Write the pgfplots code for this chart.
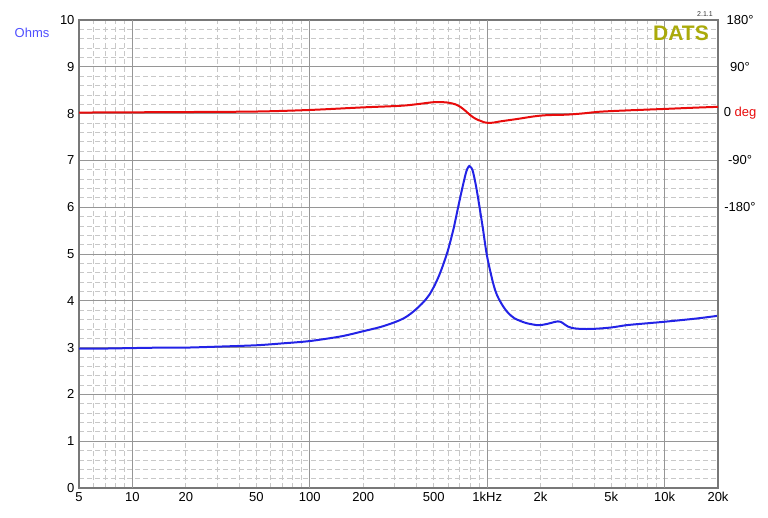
\documentclass[border=0pt]{standalone}
\usepackage{pgfplots}
\pgfplotsset{compat=1.18}
\usepackage{fontspec}
\setmainfont{Liberation Sans}

\definecolor{zblue}{RGB}{35,35,230}
\definecolor{phred}{RGB}{232,12,12}
\definecolor{ohmlbl}{RGB}{80,80,255}
\definecolor{datsol}{RGB}{170,170,10}
\definecolor{majgrid}{RGB}{150,150,150}
\definecolor{mingrid}{RGB}{200,200,200}
\definecolor{framec}{RGB}{120,120,120}

% impedance magnitude (Hz, Ohm)
\pgfplotstableread{
f Z
5 2.98
7 2.98
10 2.99
15 3.00
20 3.00
30 3.02
50 3.05
70 3.09
100 3.14
150 3.24
200 3.35
250 3.44
300 3.54
340 3.63
369 3.72
400 3.83
439 3.98
470 4.12
499 4.29
530 4.50
556 4.70
580 4.90
605 5.12
647 5.55
690 6.05
730 6.47
762 6.76
780 6.85
792 6.88
805 6.86
827 6.79
863 6.47
901 6.05
945 5.55
995 4.98
1063 4.48
1110 4.22
1159 4.05
1240 3.86
1320 3.73
1420 3.63
1535 3.57
1675 3.52
1905 3.48
2000 3.48
2200 3.51
2414 3.55
2500 3.56
2600 3.55
2720 3.50
2850 3.45
3000 3.42
3345 3.40
3975 3.40
5000 3.43
6124 3.48
8000 3.52
9840 3.55
15000 3.62
20000 3.68
}\impdata

% phase (Hz, degrees)
\pgfplotstableread{
f P
5 2
10 2.5
20 3
50 4
100 7
200 12
324 15
400 18
499 22
560 22
605 21
660 18
705 13
750 6
803 -3
860 -10
917 -14
970 -17
1018 -18
1100 -17
1183 -15
1500 -10
1820 -5.5
2160 -3
2810 -2
3500 0.5
4300 3.6
6000 6
10000 9
15000 11.5
20000 13
}\phasedata

\begin{document}
\begin{tikzpicture}[font=\fontsize{13}{15}\selectfont]
\useasboundingbox (0,0) rectangle (768pt,517pt);
\begin{axis}[
  at={(79pt,29pt)}, anchor=south west,
  width=639pt, height=468pt, scale only axis,
  xmode=log, xmin=5, xmax=20000, ymin=0, ymax=10,
  /pgf/number format/assume math mode=true,
  axis line style={framec, line width=1.2pt},
  major tick length=0pt, minor tick length=0pt,
  xtick={5,10,20,50,100,200,500,1000,2000,5000,10000,20000},
  xticklabels={5,10,20,50,100,200,500,1kHz,2k,5k,10k,20k},
  minor xtick={6,7,8,9,20,30,40,50,60,70,80,90,200,300,400,500,600,700,800,900,2000,3000,4000,5000,6000,7000,8000,9000},
  xminorgrids=true,
  extra x ticks={10,100,1000,10000},
  extra x tick labels={},
  extra x tick style={xmajorgrids=true},
  ytick={0,1,...,10},
  yticklabels={0,1,2,3,4,5,6,7,8,9,10},
  minor y tick num=4,
  ymajorgrids=true, yminorgrids=true,
  major grid style={majgrid, line width=0.8pt},
  minor grid style={mingrid, dash pattern=on 5pt off 3pt, line width=0.7pt},
  xticklabel style={yshift=-1pt},
  yticklabel style={xshift=-1pt},
]
\addplot[zblue, line width=2pt, smooth, tension=0.5] table[x=f, y=Z] {\impdata};
\end{axis}
\begin{axis}[
  at={(79pt,29pt)}, anchor=south west,
  width=639pt, height=468pt, scale only axis,
  xmode=log, xmin=5, xmax=20000, ymin=-720, ymax=180,
  axis x line=none, axis y line*=right,
  axis line style={framec, line width=1.2pt},
  major tick length=0pt, minor tick length=0pt,
  ytick={-180,-90,0,90,180},
  yticklabels={-180°,-90°,{0 \textcolor{phred}{deg}},90°,180°},
  yticklabel style={anchor=center, xshift=22pt},
]
\addplot[phred, line width=2pt, smooth, tension=0.5] table[x=f, y=P] {\phasedata};
\end{axis}
\node[text=ohmlbl] at (32pt,484pt) {Ohms};
\node[text=datsol, font=\fontsize{21}{24}\selectfont\bfseries] at (681pt,484pt) {DATS};
\node[font=\fontsize{7}{8}\selectfont\rmfamily, text=black!80] at (705pt,503pt) {2.1.1};
\end{tikzpicture}
\end{document}
